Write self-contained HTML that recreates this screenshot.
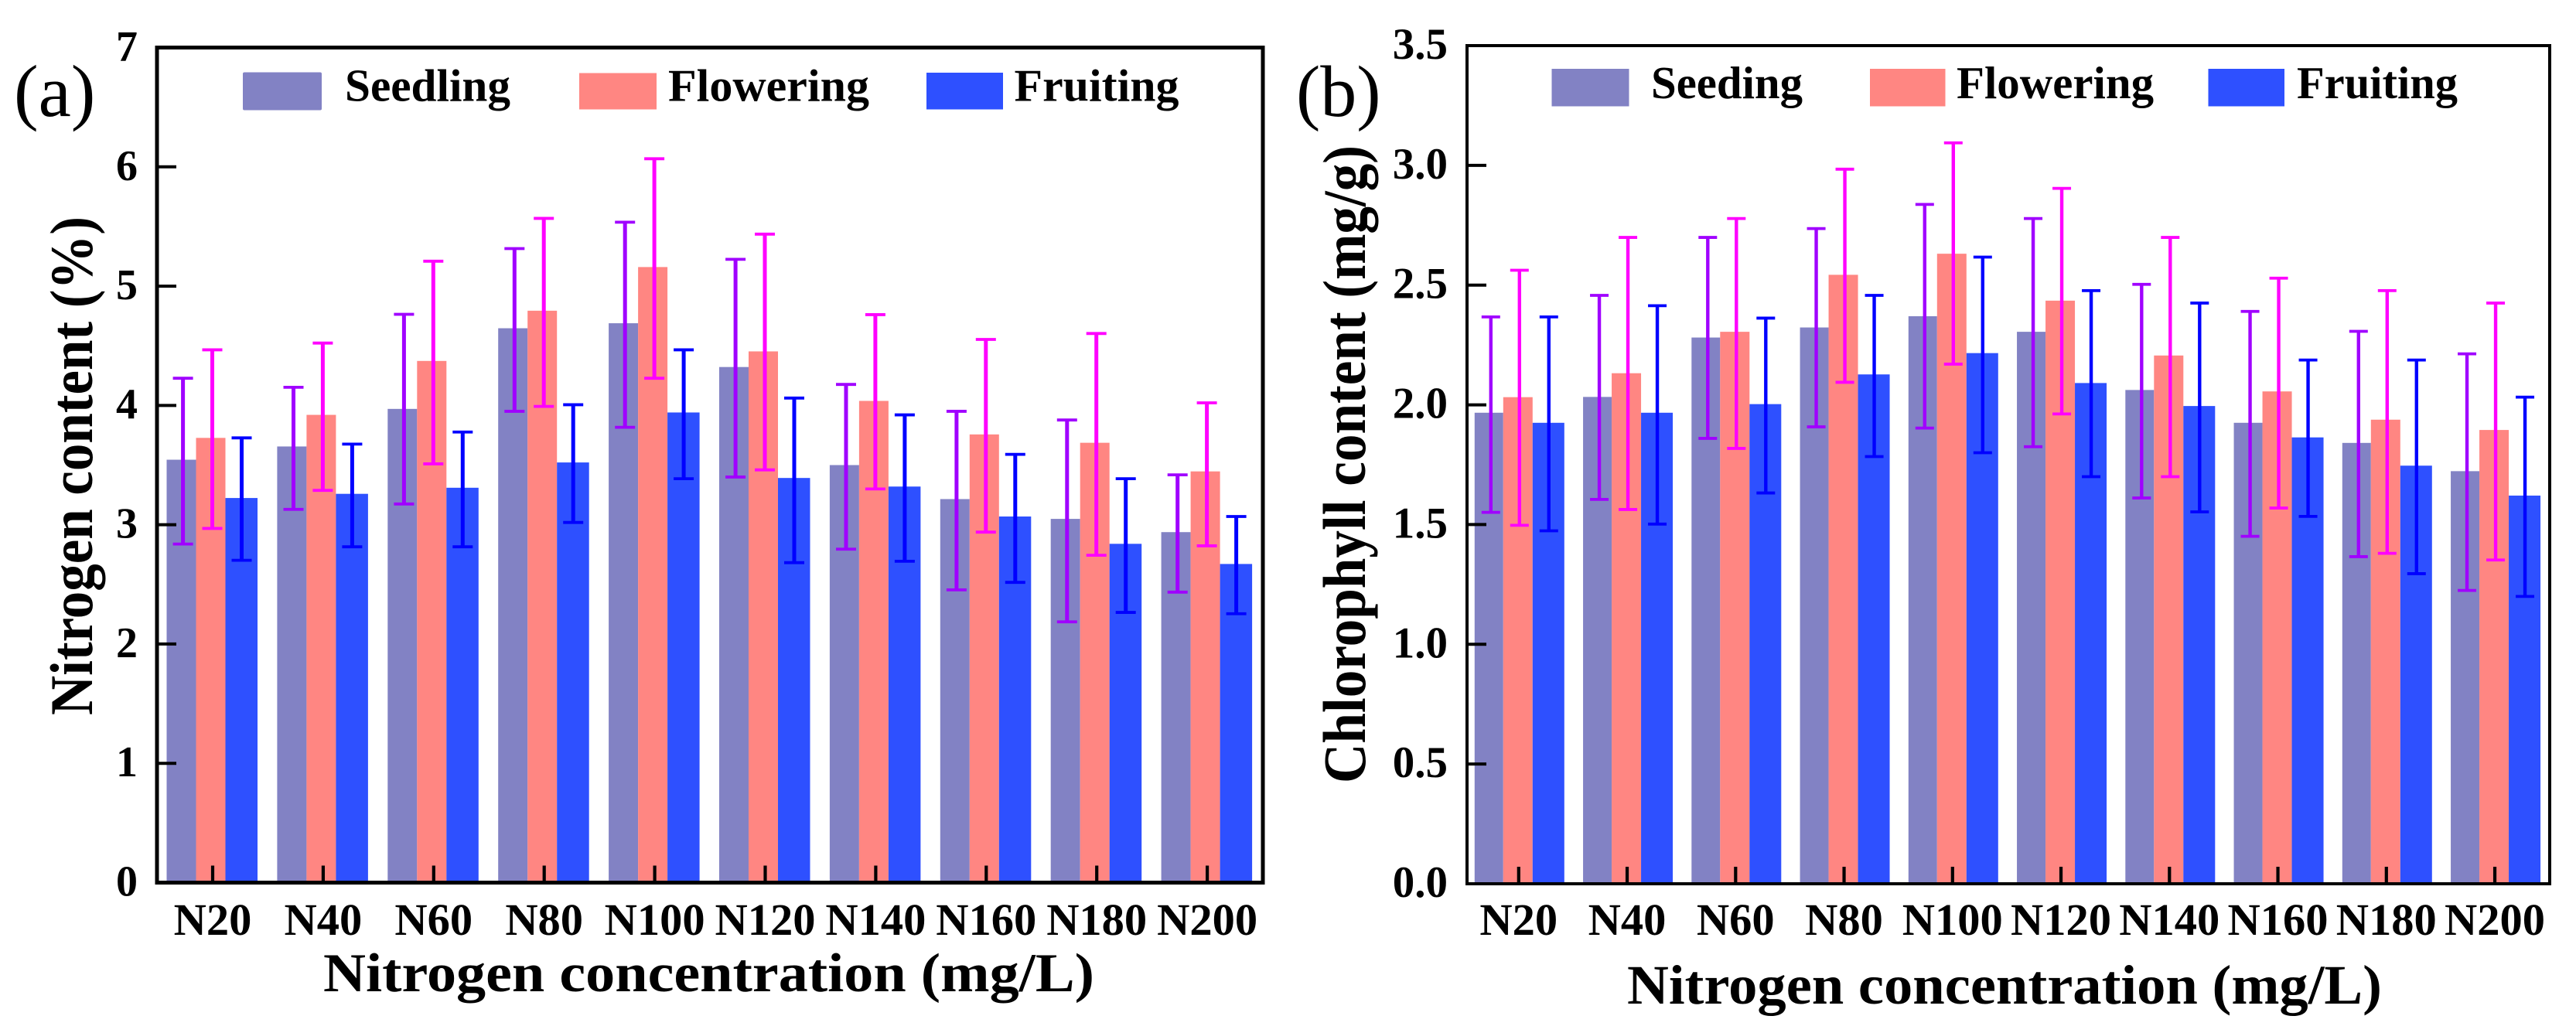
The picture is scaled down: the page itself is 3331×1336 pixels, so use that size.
<!DOCTYPE html>
<html lang="en">
<head>
<meta charset="utf-8">
<title>Nitrogen and chlorophyll content by nitrogen concentration</title>
<style>
html,body{margin:0;padding:0;background:#fff;width:3331px;height:1336px;overflow:hidden}
svg{display:block}
text{font-family:"Liberation Serif","Times New Roman",serif;fill:#000}
.b{font-weight:bold}
</style>
</head>
<body>
<svg id="fig" xmlns="http://www.w3.org/2000/svg" width="3331" height="1336" viewBox="0 0 3331 1336">
  <rect x="0" y="0" width="3331" height="1336" fill="#fff"/>
  <g id="panel-a"></g>
  <g id="panel-b"></g>

  <text x="18" y="150" font-size="95">(a)</text>
  <text x="1676" y="150" font-size="94">(b)</text>

  <text class="b" x="418" y="1282" font-size="71" textLength="997" lengthAdjust="spacingAndGlyphs">Nitrogen concentration (mg/L)</text>
  <text class="b" x="2104" y="1298" font-size="72" textLength="976" lengthAdjust="spacingAndGlyphs">Nitrogen concentration (mg/L)</text>
  <text class="b" transform="translate(119,925) rotate(-90)" x="0" y="0" font-size="78" textLength="645" lengthAdjust="spacingAndGlyphs">Nitrogen content (%)</text>
  <text class="b" transform="translate(1765,1013) rotate(-90)" x="0" y="0" font-size="78" textLength="825" lengthAdjust="spacingAndGlyphs">Chlorophyll content (mg/g)</text>

  <g>
    <rect x="314" y="93.5" width="102" height="49" rx="2" fill="#8282C4"/>
    <text class="b" x="446" y="130.5" font-size="59" textLength="214" lengthAdjust="spacingAndGlyphs">Seedling</text>
    <rect x="749" y="94.5" width="100" height="47" fill="#FF8682"/>
    <text class="b" x="864" y="130.5" font-size="59" textLength="260" lengthAdjust="spacingAndGlyphs">Flowering</text>
    <rect x="1198" y="94" width="99" height="47.5" fill="#2E50FF"/>
    <text class="b" x="1311.5" y="130.5" font-size="59" textLength="213" lengthAdjust="spacingAndGlyphs">Fruiting</text>
  </g>
  <g>
    <rect x="2006.5" y="89" width="100" height="48.5" fill="#8282C4"/>
    <text class="b" x="2135" y="127" font-size="59" textLength="196" lengthAdjust="spacingAndGlyphs">Seeding</text>
    <rect x="2418" y="89" width="97.5" height="48.5" fill="#FF8682"/>
    <text class="b" x="2530" y="127" font-size="59" textLength="255" lengthAdjust="spacingAndGlyphs">Flowering</text>
    <rect x="2855.5" y="89" width="98.5" height="48.5" fill="#2E50FF"/>
    <text class="b" x="2970" y="127" font-size="59" textLength="208" lengthAdjust="spacingAndGlyphs">Fruiting</text>
  </g>
</svg>

<script>
// Shared categories
var categories = ['N20','N40','N60','N80','N100','N120','N140','N160','N180','N200'];

// Panel (a): nitrogen content (%)
var aTickLabels = ['0','1','2','3','4','5','6','7'];
var aSeedling     = [3.545,3.656,3.971,4.647,4.689,4.322,3.50,3.215,3.049,2.938];
var aSeedlingHigh = [4.228,4.152,4.764,5.315,5.536,5.225,4.176,3.951,3.878,3.418];
var aSeedlingLow  = [2.838,3.129,3.174,3.951,3.817,3.40,2.795,2.454,2.186,2.435];
var aFlowering     = [3.728,3.921,4.373,4.794,5.16,4.453,4.038,3.757,3.687,3.447];
var aFloweringHigh = [4.466,4.523,5.209,5.568,6.068,5.436,4.761,4.553,4.603,4.022];
var aFloweringLow  = [2.969,3.288,3.51,3.992,4.228,3.46,3.30,2.938,2.744,2.823];
var aFruiting     = [3.224,3.259,3.31,3.522,3.941,3.392,3.32,3.069,2.84,2.671];
var aFruitingHigh = [3.728,3.676,3.777,4.006,4.466,4.062,3.921,3.59,3.386,3.069];
var aFruitingLow  = [2.702,2.815,2.815,3.019,3.386,2.682,2.694,2.517,2.265,2.254];

// Panel (b): chlorophyll content (mg/g)
var bTickLabels = ['0.0','0.5','1.0','1.5','2.0','2.5','3.0','3.5'];
var bSeedling     = [1.967,2.033,2.281,2.323,2.37,2.305,2.062,1.925,1.841,1.723];
var bSeedlingHigh = [2.367,2.457,2.699,2.736,2.837,2.778,2.503,2.39,2.307,2.213];
var bSeedlingLow  = [1.551,1.605,1.86,1.908,1.903,1.825,1.611,1.451,1.366,1.225];
var bFlowering     = [2.032,2.132,2.305,2.543,2.631,2.435,2.206,2.056,1.938,1.895];
var bFloweringHigh = [2.562,2.699,2.778,2.984,3.094,2.904,2.699,2.529,2.477,2.425];
var bFloweringLow  = [1.497,1.563,1.818,2.094,2.17,1.962,1.70,1.569,1.38,1.352];
var bFruiting     = [1.925,1.967,2.003,2.127,2.216,2.091,1.995,1.864,1.746,1.621];
var bFruitingHigh = [2.367,2.414,2.362,2.457,2.617,2.477,2.425,2.187,2.187,2.032];
var bFruitingLow  = [1.474,1.502,1.632,1.784,1.80,1.70,1.553,1.534,1.295,1.20];

var SVGNS = 'http://www.w3.org/2000/svg';

function make(tag, props, parent) {
  var el = document.createElementNS(SVGNS, tag);
  for (var k in props) { el.setAttribute(k, props[k]); }
  parent.appendChild(el);
  return el;
}

function drawPanel(cfg) {
  var g = document.getElementById(cfg.id);
  var yMax = parseFloat(cfg.tickLabels[cfg.tickLabels.length - 1]);
  function yScale(v) { return cfg.bottom - (v / yMax) * (cfg.bottom - cfg.top); }
  function xScale(i) { return cfg.x0 + i * cfg.step; }

  // Bars
  cfg.series.forEach(function (s) {
    s.values.forEach(function (v, i) {
      var y = yScale(v);
      var bar = make('rect', {x: xScale(i) + s.barLeft, y: y, width: s.barRight - s.barLeft, height: cfg.bottom - y, fill: s.color}, g);
      
      
    });
  });

  // Error bars
  cfg.series.forEach(function (s) {
    s.values.forEach(function (v, i) {
      var x = xScale(i) + s.errOffset;
      var yHi = yScale(s.high[i]);
      var yLo = yScale(s.low[i]);
      var errGroup = make('g', {}, g);
      
      
      var stem = make('line', {x1: x, x2: x, y1: yHi, y2: yLo, stroke: s.errColor, 'stroke-width': cfg.stemWidth}, errGroup);
      
      
      var caps = make('path', {d: 'M' + (x - cfg.cap) + ' ' + yHi + 'H' + (x + cfg.cap) + 'M' + (x - cfg.cap) + ' ' + yLo + 'H' + (x + cfg.cap), fill: 'none', stroke: s.errColor, 'stroke-width': 3.8}, errGroup);
      
      
    });
  });

  // Frame
  var frame = make('rect', {x: cfg.left, y: cfg.top, width: cfg.right - cfg.left, height: cfg.bottom - cfg.top, fill: 'none', stroke: '#000', 'stroke-width': cfg.frameWidth}, g);
  
  

  // Y ticks and labels
  cfg.tickLabels.forEach(function (label) {
    var v = parseFloat(label);
    var y = yScale(v);
    if (v > 0 && v < yMax) {
      var tick = make('line', {x1: cfg.left, x2: cfg.left + cfg.yTickLen, y1: y, y2: y, stroke: '#000', 'stroke-width': 4}, g);
      
      
    }
    var t = make('text', {x: cfg.yLabelX, y: y + 17, 'font-size': cfg.yFont, 'font-weight': 'bold', 'text-anchor': 'end'}, g);
    t.textContent = label;
    
    
  });

  // X ticks and labels
  categories.forEach(function (cat, i) {
    var x = xScale(i);
    var tick = make('line', {x1: x, x2: x, y1: cfg.bottom, y2: cfg.bottom - 22, stroke: '#000', 'stroke-width': 4.2}, g);
    
    
    var t = make('text', {x: x, y: 1209, 'font-size': 58.5, 'font-weight': 'bold', 'text-anchor': 'middle'}, g);
    t.textContent = cat;
    
    
  });
}

drawPanel({
  id: 'panel-a', tickLabels: aTickLabels,
  left: 203, right: 1633, top: 61.5, bottom: 1141.5,
  x0: 275, step: 142.9, cap: 13, stemWidth: 5, frameWidth: 5, yTickLen: 25, yLabelX: 178, yFont: 56,
  series: [
    {name: 'seedling', values: aSeedling, high: aSeedlingHigh, low: aSeedlingLow, color: '#8282C4', errColor: '#A000FF', barLeft: -59.5, barRight: -21.5, errOffset: -38.4},
    {name: 'flowering', values: aFlowering, high: aFloweringHigh, low: aFloweringLow, color: '#FF8682', errColor: '#FF00FF', barLeft: -21.5, barRight: 16.5, errOffset: -0.5},
    {name: 'fruiting', values: aFruiting, high: aFruitingHigh, low: aFruitingLow, color: '#2E50FF', errColor: '#0000FF', barLeft: 16.5, barRight: 58, errOffset: 37.5}
  ]
});

drawPanel({
  id: 'panel-b', tickLabels: bTickLabels,
  left: 1897, right: 3297, top: 59, bottom: 1143,
  x0: 1963.8, step: 140.25, cap: 12, stemWidth: 4.4, frameWidth: 4, yTickLen: 25, yLabelX: 1872, yFont: 57,
  series: [
    {name: 'seedling', values: bSeedling, high: bSeedlingHigh, low: bSeedlingLow, color: '#8282C4', errColor: '#A000FF', barLeft: -57, barRight: -20, errOffset: -36},
    {name: 'flowering', values: bFlowering, high: bFloweringHigh, low: bFloweringLow, color: '#FF8682', errColor: '#FF00FF', barLeft: -20, barRight: 18, errOffset: 1},
    {name: 'fruiting', values: bFruiting, high: bFruitingHigh, low: bFruitingLow, color: '#2E50FF', errColor: '#0000FF', barLeft: 18, barRight: 59, errOffset: 39}
  ]
});
</script>
</body>
</html>
